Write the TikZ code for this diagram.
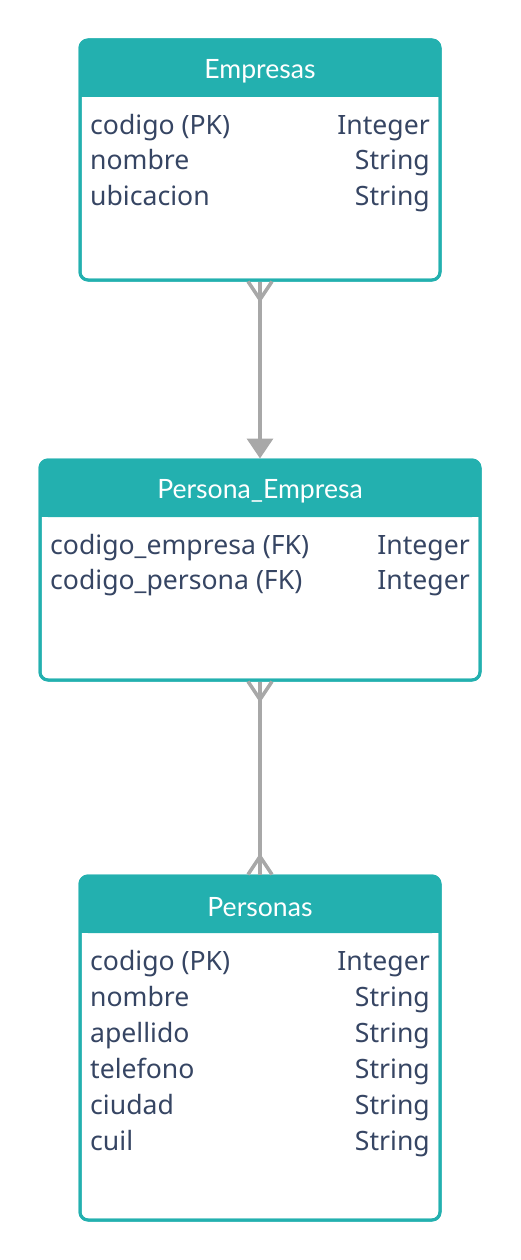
\documentclass[tikz,border=0pt]{standalone}
\usepackage{fontspec}
\setmainfont{Noto Sans}
\newfontfamily\titlefont{Lato}
\usetikzlibrary{calc,arrows.meta}
\definecolor{teal}{HTML}{23B0AF}
\definecolor{txt}{HTML}{364563}
\definecolor{conncol}{HTML}{A8A8A8}
\tikzset{
  tbox/.style={draw=teal, line width=3pt, rounded corners=8pt, fill=white, inner sep=0pt},
  ttl/.style={text=white, font=\titlefont\fontsize{26.6}{30}\selectfont, inner sep=0pt},
  fld/.style={text=txt, font=\fontsize{26.6}{30}\selectfont, inner sep=0pt, anchor=mid west},
  typ/.style={text=txt, font=\fontsize{26.6}{30}\selectfont, inner sep=0pt, anchor=mid east},
  conn/.style={draw=conncol, line width=3.5pt},
}
\begin{document}
\begin{tikzpicture}[x=1pt,y=-1pt]
\useasboundingbox (0,0) rectangle (520,1260);
% Empresas
\node[tbox, minimum width=360pt, minimum height=240pt] (e) at (260,160) {};
\fill[teal, rounded corners=8pt] (80,40) rectangle (440,97);
\fill[teal] (80,80) rectangle (440,97);
\draw[teal, line width=3pt, rounded corners=8pt] (80,40) rectangle (440,280);
\node[ttl] (et) at (260,71) {Empresas};
\node[fld] (e1) at (90,132) {codigo (PK)};
\node[typ] (e1t) at (430,132) {Integer};
\node[fld] (e2) at (90,167) {nombre};
\node[typ] (e2t) at (430,167) {String};
\node[fld] (e3) at (90,203) {ubicacion};
\node[typ] (e3t) at (430,203) {String};
% Persona_Empresa
\node[tbox, minimum width=440pt, minimum height=220pt] (pe) at (260,570) {};
\fill[teal, rounded corners=8pt] (40,460) rectangle (480,517);
\fill[teal] (40,500) rectangle (480,517);
\draw[teal, line width=3pt, rounded corners=8pt] (40,460) rectangle (480,680);
\node[ttl] (pet) at (260,491) {Persona\_Empresa};
\node[fld] (pe1) at (50,552) {codigo\_empresa (FK)};
\node[typ] (pe1t) at (470,552) {Integer};
\node[fld] (pe2) at (50,587) {codigo\_persona (FK)};
\node[typ] (pe2t) at (470,587) {Integer};
% Personas
\node[tbox, minimum width=360pt, minimum height=344pt] (p) at (260,1048) {};
\fill[teal, rounded corners=8pt] (80,876) rectangle (440,933);
\fill[teal] (80,916) rectangle (440,933);
\draw[teal, line width=3pt, rounded corners=8pt] (80,876) rectangle (440,1220);
\node[ttl] (pt) at (260,907) {Personas};
\node[fld] (p1) at (90,968) {codigo (PK)};
\node[typ] (p1t) at (430,968) {Integer};
\node[fld] (p2) at (90,1004) {nombre};
\node[typ] (p2t) at (430,1004) {String};
\node[fld] (p3) at (90,1040) {apellido};
\node[typ] (p3t) at (430,1040) {String};
\node[fld] (p4) at (90,1076) {telefono};
\node[typ] (p4t) at (430,1076) {String};
\node[fld] (p5) at (90,1112) {ciudad};
\node[typ] (p5t) at (430,1112) {String};
\node[fld] (p6) at (90,1148) {cuil};
\node[typ] (p6t) at (430,1148) {String};
% connector Empresas -> Persona_Empresa
\coordinate (j1) at ($(e.south)+(0,18)$);
\draw[conn, -{Triangle[length=20pt,width=26pt]}] (e.south) -- (pe.north);
\draw[conn] ($(e.south)+(-12,0)$) -- (j1) -- ($(e.south)+(12,0)$);
% connector Persona_Empresa -- Personas
\coordinate (j2) at ($(pe.south)+(0,18)$);
\coordinate (j3) at ($(p.north)+(0,-18)$);
\draw[conn] (pe.south) -- (p.north);
\draw[conn] ($(pe.south)+(-12,0)$) -- (j2) -- ($(pe.south)+(12,0)$);
\draw[conn] ($(p.north)+(-12,0)$) -- (j3) -- ($(p.north)+(12,0)$);
\end{tikzpicture}
\end{document}
